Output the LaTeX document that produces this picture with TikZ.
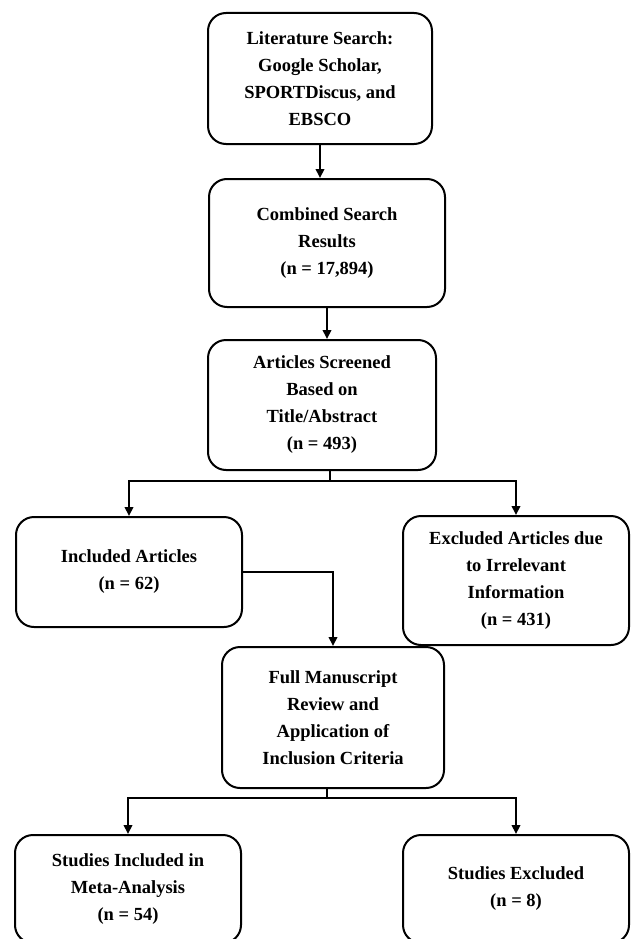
\documentclass[tikz,border=0pt]{standalone}
\usepackage{fontspec}
\setmainfont{Liberation Serif}
\usetikzlibrary{arrows.meta, calc}

\begin{document}
\begin{tikzpicture}[x=1pt, y=-1pt,
	stagebox/.style={draw, line width=2pt, rounded corners=18pt, align=center,
		inner sep=0pt, font=\bfseries\fontsize{18.5}{27}\selectfont},
	arr/.style={line width=2pt, -{Triangle[length=9pt, width=8.5pt]}},
	link/.style={line width=2pt}]
				\useasboundingbox (0,0) rectangle (641,939);
				\clip (0,0) rectangle (641,939);
				
				% search and screening
				\node[stagebox, minimum width=224, minimum height=131] (search) at (320, 78.5)
					{Literature Search:\\ Google Scholar,\\ SPORTDiscus, and\\ EBSCO};
				\node[stagebox, minimum width=236, minimum height=128] (combined) at (327, 243)
					{Combined Search\\ Results\\ (n = 17,894)};
				\node[stagebox, minimum width=228, minimum height=130] (screened) at (322, 405)
					{Articles Screened\\ Based on\\ Title/Abstract\\ (n = 493)};
				
				% first split
				\node[stagebox, minimum width=226, minimum height=110] (included) at (129, 572)
					{Included Articles\\ (n = 62)};
				\node[stagebox, minimum width=226, minimum height=129] (excluded) at (516, 580.5)
					{Excluded Articles due\\ to Irrelevant\\ Information\\ (n = 431)};
				\node[stagebox, minimum width=222, minimum height=141] (review) at (333, 717.5)
					{Full Manuscript\\ Review and\\ Application of\\ Inclusion Criteria};
				
				% second split
				\node[stagebox, minimum width=226, minimum height=108] (meta) at (128, 889)
					{Studies Included in\\ Meta-Analysis\\ (n = 54)};
				\node[stagebox, minimum width=226, minimum height=108] (dropped) at (516, 889)
					{Studies Excluded\\ (n = 8)};
				
				\draw[arr] (search.south) -- (search.south |- combined.north);
				\draw[arr] (combined.south) -- (combined.south |- screened.north);
				
				\coordinate (fork1) at ($(screened.south)+(8,10)$);
				\draw[link] (screened.south -| fork1) -- (fork1);
				\draw[arr] (fork1) -| (included.north);
				\draw[arr] (fork1) -| (excluded.north);
				
				\draw[arr] (included.east) -| (review.north);
				
				\coordinate (fork2) at ($(review.south)+(-6,9)$);
				\draw[link] (review.south -| fork2) -- (fork2);
				\draw[arr] (fork2) -| (meta.north);
				\draw[arr] (fork2) -| (dropped.north);
			\end{tikzpicture}
\end{document}
